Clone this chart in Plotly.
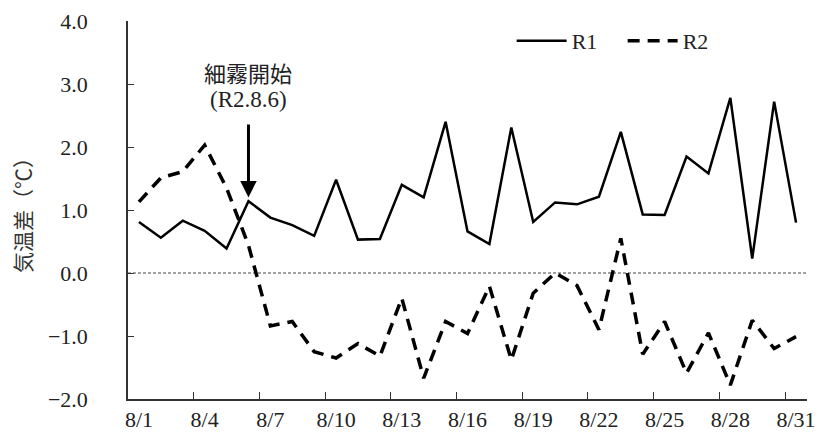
import plotly.graph_objects as go

days = list(range(1, 32))
tick_days = [1, 4, 7, 10, 13, 16, 19, 22, 25, 28, 31]
tick_labels = ["8/1", "8/4", "8/7", "8/10", "8/13", "8/16", "8/19", "8/22", "8/25", "8/28", "8/31"]
boundary_ticks = [3.5, 6.5, 9.5, 12.5, 15.5, 18.5, 21.5, 24.5, 27.5, 30.5]

r1 = [0.81, 0.56, 0.83, 0.67, 0.39, 1.14, 0.88, 0.76, 0.59, 1.48,
      0.53, 0.54, 1.40, 1.20, 2.40, 0.66, 0.46, 2.31, 0.81, 1.12,
      1.09, 1.21, 2.24, 0.93, 0.92, 1.85, 1.58, 2.78, 0.23, 2.72, 0.80]
r2 = [1.13, 1.51, 1.61, 2.03, 1.35, 0.44, -0.84, -0.77, -1.25, -1.35,
      -1.12, -1.32, -0.40, -1.67, -0.77, -0.96, -0.21, -1.38, -0.32, 0.0,
      -0.20, -0.90, 0.55, -1.29, -0.77, -1.59, -0.95, -1.78, -0.75, -1.20, -1.01]

SERIF = "'Liberation Serif', 'DejaVu Serif', serif"
CJK = "'Noto Sans CJK JP', sans-serif"
INK = "#222222"

fig = go.Figure()
fig.add_trace(go.Scatter(x=days, y=r1, mode="lines", name="R1",
                         line=dict(color="black", width=2.5)))
fig.add_trace(go.Scatter(x=days, y=r2, mode="lines", name="R2",
                         line=dict(color="black", width=3.5, dash="12px,8px")))

fig.add_shape(type="line", xref="paper", x0=0, x1=1, yref="y", y0=0, y1=0,
              line=dict(color="#444444", width=1, dash="3px,2px"), layer="below")

fig.add_annotation(x=6, y=1.2, ax=6, ay=2.38, xref="x", yref="y", axref="x", ayref="y",
                   showarrow=True, arrowhead=2, arrowsize=1.1, arrowwidth=3,
                   arrowcolor="black", text="")
fig.add_annotation(x=6, y=3.19, xref="x", yref="y", showarrow=False,
                   text="細霧開始", align="center",
                   font=dict(family=CJK, size=22, color=INK))
fig.add_annotation(x=6, y=2.75, xref="x", yref="y", showarrow=False,
                   text="(R2.8.6)", align="center",
                   font=dict(family=SERIF, size=23, color=INK))
fig.add_annotation(x=-0.156, y=0.5, xref="paper", yref="paper", showarrow=False,
                   text="気温差（℃）", textangle=-90, xanchor="center", yanchor="middle",
                   font=dict(family=CJK, size=21, color="#333333"))

fig.update_layout(
    width=822, height=442,
    margin=dict(l=128, r=15, t=21, b=43, autoexpand=False),
    paper_bgcolor="white", plot_bgcolor="white",
    showlegend=True,
    legend=dict(orientation="h", x=0.565, y=0.947, xanchor="left", yanchor="middle",
                font=dict(family=SERIF, size=22, color=INK),
                bgcolor="rgba(0,0,0,0)", entrywidth=46, itemwidth=50),
    xaxis=dict(range=[0.5, 31.5], tickmode="array", tickvals=tick_days, ticktext=tick_labels,
               ticks="", showgrid=False, zeroline=False, showline=True, automargin=False,
               linecolor="#333333", linewidth=1.5,
               tickfont=dict(family=SERIF, size=22, color=INK), ticklabelstandoff=0,
               minor=dict(tickmode="array", tickvals=boundary_ticks, ticks="inside",
                          ticklen=7, tickwidth=1, tickcolor="#333333", showgrid=False)),
    yaxis=dict(range=[-2, 4], dtick=1, tick0=0, tickformat=".1f",
               ticks="inside", ticklen=6, tickwidth=1, tickcolor="#333333",
               showgrid=False, zeroline=False, showline=True, automargin=False,
               linecolor="#333333", linewidth=1.5,
               tickfont=dict(family=SERIF, size=22, color=INK), ticklabelstandoff=34),
)

fig.write_html("out.html", config={"displayModeBar": False},
               post_script="document.body.style.margin='0px';")
